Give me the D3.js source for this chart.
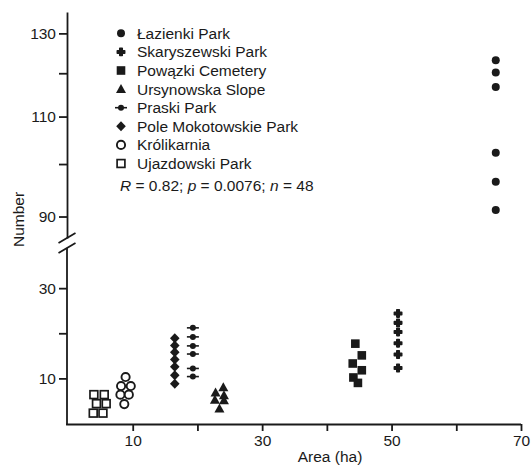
<!DOCTYPE html>
<html>
<head>
<meta charset="utf-8">
<script src="https://cdn.jsdelivr.net/npm/d3@7"></script>
<style>
  html, body { margin: 0; padding: 0; background: #fff; }
  svg { display: block; }
  text { font-family: "Liberation Sans", Arial, sans-serif; fill: #1a1a1a; }
</style>
</head>
<body>
<svg id="chart" width="531" height="465"></svg>
<script>
// ---------- data ----------
const seriesNames = ["Łazienki Park", "Skaryszewski Park", "Powązki Cemetery", "Ursynowska Slope",
                     "Praski Park", "Pole Mokotowskie Park", "Królikarnia", "Ujazdowski Park"];
const markerTypes = ["circle", "cross", "square", "triangle", "dash", "diamond", "openCircle", "openSquare"];

const lazienkiArea = [66.1, 66.1, 66.1, 66.1, 66.1, 66.1];
const lazienkiNum  = [123.2, 120.2, 116.7, 102.3, 96.5, 91.2];

const skaryszewskiArea = [51.0, 51.0, 51.0, 51.0, 51.0, 51.0];
const skaryszewskiNum  = [24.4, 22.3, 20.3, 17.8, 15.3, 12.3];

const powazkiArea = [44.4, 45.4, 44.0, 45.4, 44.1, 44.8];
const powazkiNum  = [17.7, 15.1, 13.3, 11.8, 10.2, 9.0];

const ursynowskaArea = [24.0, 22.8, 24.1, 22.7, 24.1, 23.4];
const ursynowskaNum  = [8.0, 6.8, 6.2, 5.2, 5.1, 3.3];

const praskiArea = [19.3, 19.3, 19.3, 19.3, 19.3, 19.3];
const praskiNum  = [21.2, 19.2, 17.2, 15.4, 12.2, 10.4];

const poleArea = [16.5, 16.5, 16.5, 16.5, 16.5, 16.5, 16.5];
const poleNum  = [18.9, 17.3, 15.8, 14.2, 12.6, 10.7, 8.8];

const krolikarniaArea = [8.9, 8.2, 9.7, 8.1, 9.4, 8.7];
const krolikarniaNum  = [10.3, 8.3, 8.3, 6.4, 6.4, 4.3];

const ujazdowskiArea = [4.0, 5.6, 4.4, 5.9, 3.9, 5.4];
const ujazdowskiNum  = [6.4, 6.4, 4.4, 4.4, 2.3, 2.3];

const xTicks = [10, 20, 30, 40, 50, 60, 70];
const xTickLabels = [10, 30, 50, 70];
const yUpperTicks = [90, 100, 110, 120, 130];
const yUpperLabels = [90, 110, 130];
const yLowerTicks = [10, 20, 30];
const yLowerLabels = [10, 30];

const seriesArea = [lazienkiArea, skaryszewskiArea, powazkiArea, ursynowskaArea,
                    praskiArea, poleArea, krolikarniaArea, ujazdowskiArea];
const seriesNum = [lazienkiNum, skaryszewskiNum, powazkiNum, ursynowskaNum,
                   praskiNum, poleNum, krolikarniaNum, ujazdowskiNum];

// ---------- layout ----------
const INK = "#1a1a1a";
const FONT = 15.5;
const svg = d3.select("#chart");

const axisX = 67;
const axisY = 424;
const breakTop = 238;   // bottom of upper segment
const breakBot = 248;   // top of lower segment

const x = d3.scaleLinear().domain([0, 70]).range([68, 521]);
const yUp = d3.scaleLog().domain([86.2, 135.7]).range([breakTop, 12]);
const yLow = d3.scaleLinear().domain([0, 38.9]).range([axisY - 0.5, breakBot]);
const yOf = v => v >= 60 ? yUp(v) : yLow(v);

function styleAxis(g) {
  g.select(".domain").attr("stroke", INK).attr("stroke-width", 1.8);
  g.selectAll(".tick line").attr("stroke", INK).attr("stroke-width", 1.8);
  g.selectAll(".tick text").attr("font-size", FONT)
    .attr("font-family", "'Liberation Sans', Arial, sans-serif").attr("fill", INK);
  g.attr("font-family", null).attr("font-size", null);
}

// x axis
const gx = svg.append("g").attr("transform", `translate(0,${axisY})`)
  .call(d3.axisBottom(x).tickValues(xTicks).tickSize(7).tickSizeOuter(0).tickPadding(4)
    .tickFormat(d => xTickLabels.includes(d) ? d : ""));
styleAxis(gx);
gx.select(".domain").attr("d", `M${axisX - 0.9},0.5H${x(70)}`);

// y axes
const gyU = svg.append("g").attr("transform", `translate(${axisX},0)`)
  .call(d3.axisLeft(yUp).tickValues(yUpperTicks).tickSize(8).tickSizeOuter(0).tickPadding(3)
    .tickFormat(d => yUpperLabels.includes(d) ? d : ""));
styleAxis(gyU);

const gyL = svg.append("g").attr("transform", `translate(${axisX},0)`)
  .call(d3.axisLeft(yLow).tickValues(yLowerTicks).tickSize(8).tickSizeOuter(0).tickPadding(3)
    .tickFormat(d => yLowerLabels.includes(d) ? d : ""));
styleAxis(gyL);
gyL.select(".domain").attr("d", `M0,${axisY + 0.9}V${breakBot}`);

// break marks
[breakTop, breakBot].forEach(yc => {
  svg.append("line")
    .attr("x1", axisX - 8.5).attr("y1", yc + 5)
    .attr("x2", axisX + 8.5).attr("y2", yc - 5)
    .attr("stroke", INK).attr("stroke-width", 1.8);
});

// ---------- markers ----------
function drawMarker(g, type, cx, cy) {
  switch (type) {
    case "circle":
      g.append("circle").attr("cx", cx).attr("cy", cy).attr("r", 4).attr("fill", INK);
      break;
    case "cross":
      g.append("path").attr("d", d3.symbol(d3.symbolCross, 30)())
        .attr("transform", `translate(${cx},${cy})`)
        .attr("fill", INK).attr("stroke", INK).attr("stroke-width", 1.6).attr("stroke-linejoin", "round");
      break;
    case "square":
      g.append("rect").attr("x", cx - 4.3).attr("y", cy - 4.3).attr("width", 8.6).attr("height", 8.6).attr("fill", INK);
      break;
    case "triangle":
      g.append("path").attr("d", `M${cx},${cy - 5.2}L${cx + 5},${cy + 3.8}L${cx - 5},${cy + 3.8}Z`).attr("fill", INK);
      break;
    case "dash":
      g.append("line").attr("x1", cx - 6).attr("x2", cx + 6).attr("y1", cy).attr("y2", cy)
        .attr("stroke", INK).attr("stroke-width", 1.6);
      g.append("circle").attr("cx", cx).attr("cy", cy).attr("r", 3).attr("fill", INK);
      break;
    case "diamond":
      g.append("path").attr("d", `M${cx},${cy - 5}L${cx + 4.8},${cy}L${cx},${cy + 5}L${cx - 4.8},${cy}Z`).attr("fill", INK);
      break;
    case "openCircle":
      g.append("circle").attr("cx", cx).attr("cy", cy).attr("r", 4.1)
        .attr("fill", "#fff").attr("stroke", INK).attr("stroke-width", 1.9);
      break;
    case "openSquare":
      g.append("rect").attr("x", cx - 3.9).attr("y", cy - 3.9).attr("width", 7.8).attr("height", 7.8)
        .attr("fill", "#fff").attr("stroke", INK).attr("stroke-width", 1.7);
      break;
  }
}

const marks = svg.append("g");
seriesNames.forEach((name, i) => {
  const g = marks.append("g").attr("class", "series");
  seriesArea[i].forEach((a, j) => drawMarker(g, markerTypes[i], x(a), yOf(seriesNum[i][j])));
});

// ---------- legend ----------
const legend = svg.append("g");
seriesNames.forEach((name, i) => {
  const ly = 33.3 + i * 18.6;
  drawMarker(legend, markerTypes[i], 121, ly);
  legend.append("text").attr("x", 137).attr("y", ly).attr("dy", "0.36em")
    .attr("font-size", FONT).text(name);
});

const stat = legend.append("text").attr("x", 120).attr("y", 185).attr("dy", "0.36em").attr("font-size", FONT);
stat.append("tspan").attr("font-style", "italic").text("R");
stat.append("tspan").text(" = 0.82; ");
stat.append("tspan").attr("font-style", "italic").text("p");
stat.append("tspan").text(" = 0.0076; ");
stat.append("tspan").attr("font-style", "italic").text("n");
stat.append("tspan").text(" = 48");

// ---------- axis titles ----------
svg.append("text").attr("x", 330).attr("y", 456).attr("dy", "0.36em")
  .attr("text-anchor", "middle").attr("font-size", FONT).text("Area (ha)");
svg.append("text").attr("transform", "translate(18,219.5) rotate(-90)").attr("dy", "0.36em")
  .attr("text-anchor", "middle").attr("font-size", FONT).text("Number");
</script>
</body>
</html>
